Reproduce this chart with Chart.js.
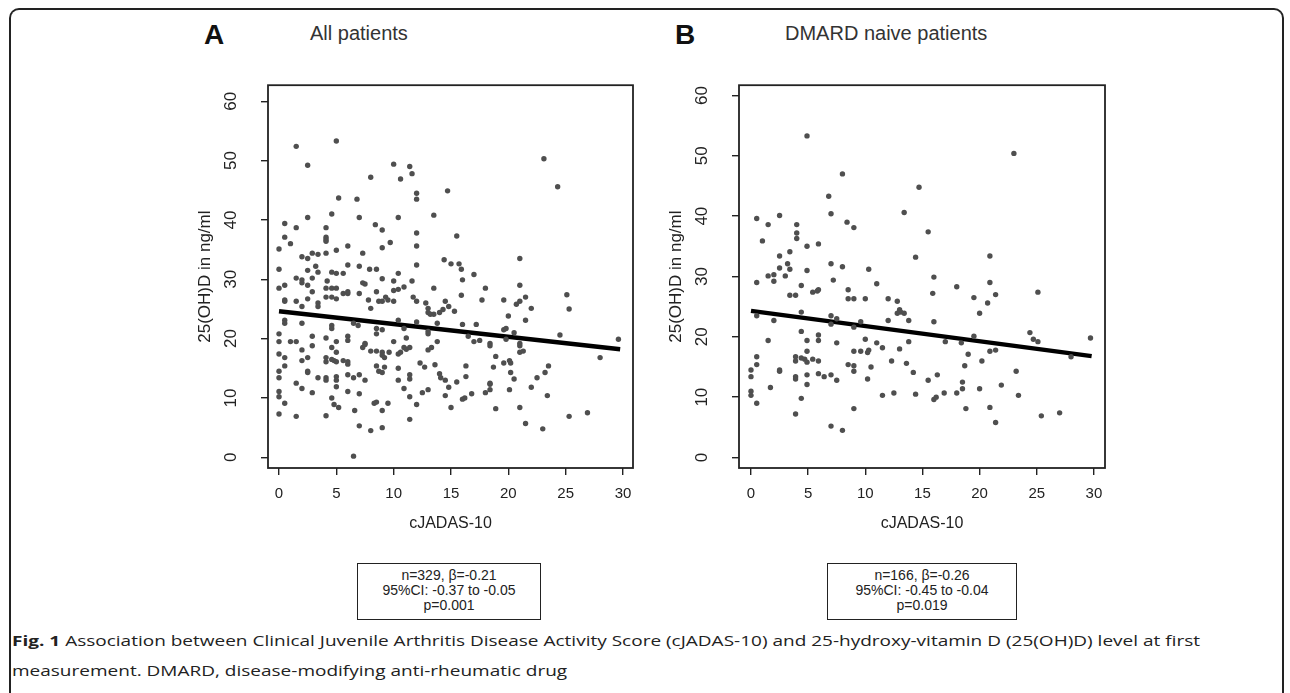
<!DOCTYPE html>
<html>
<head>
<meta charset="utf-8">
<script src="https://cdn.jsdelivr.net/npm/chart.js@4.4.0/dist/chart.umd.min.js"></script>
<style>
  html, body { margin: 0; padding: 0; background: #fff; }
  body { width: 1290px; height: 693px; position: relative; overflow: hidden;
         font-family: "Liberation Sans", Arial, sans-serif; color: #222; }
  .frame { position: absolute; left: 9px; top: 8px; width: 1275px; height: 720px;
           border: 2px solid #222; border-bottom: none; border-radius: 10px 10px 0 0; box-sizing: border-box; }
  .panel { position: absolute; top: 55px; width: 460px; height: 490px; }
  .letter { position: absolute; top: 19px; font-weight: bold; font-size: 28px; color: #111; }
  .ptitle { position: absolute; top: 22px; font-size: 20px; color: #333; }
  .stats { position: absolute; top: 563px; height: 57px; border: 1.5px solid #222; box-sizing: border-box;
           font-size: 14px; line-height: 15px; text-align: center; padding-top: 4px; color: #222; }
  .caption { position: absolute; left: 12px; font-family: "Open Sans", "Noto Sans", sans-serif;
             font-size: 15px; color: #222; white-space: nowrap; transform-origin: 0 0; }
</style>
</head>
<body>
<div class="frame"></div>

<div class="letter" style="left:204px">A</div>
<div class="ptitle" style="left:310px">All patients</div>
<div class="letter" style="left:675px">B</div>
<div class="ptitle" style="left:785px">DMARD naive patients</div>

<div class="panel" style="left:190px"><canvas id="chartA"></canvas></div>
<div class="panel" style="left:661px"><canvas id="chartB"></canvas></div>

<div class="stats" style="left:357px; width:184px">n=329, &beta;=-0.21<br>95%CI: -0.37 to -0.05<br>p=0.001</div>
<div class="stats" style="left:827px; width:190px">n=166, &beta;=-0.26<br>95%CI: -0.45 to -0.04<br>p=0.019</div>

<div class="caption" id="cap1" style="top:630px"><b>Fig. 1</b> Association between Clinical Juvenile Arthritis Disease Activity Score (cJADAS-10) and 25-hydroxy-vitamin D (25(OH)D) level at first</div>
<div class="caption" id="cap2" style="top:660px">measurement. DMARD, disease-modifying anti-rheumatic drug</div>

<script>
// axis ticks
const xTicks = [0, 5, 10, 15, 20, 25, 30];
const yTicks = [0, 10, 20, 30, 40, 50, 60];

// A: all patients (cJADAS-10, 25(OH)D)
const allX = [1.5,5.0,2.5,10.0,11.4,11.6,8.0,10.6,23.1,24.3,14.7,12.0,12.0,5.2,6.8,4.6,13.5,2.5,7.0,10.4,
  0.5,1.5,0.5,1.0,0.0,4.1,4.1,4.1,4.1,9.0,8.4,9.7,9.0,12.0,12.0,15.5,6.0,5.0,7.3,4.1,2.9,3.4,2.0,2.5,0.0,2.5,3.2,3.4,4.6,5.0,5.6,6.0,7.0,7.9,8.5,10.4,12.0,14.4,15.0,15.7,15.9,21.0,17.0,16.0,18.0,21.0,25.1,25.3,
  1.5,2.0,2.5,2.9,2.0,0.0,0.5,4.2,4.1,4.6,5.0,2.9,5.6,6.0,6.0,7.3,7.5,7.0,9.0,10.0,10.4,10.9,10.0,11.6,13.5,8.5,
  0.5,0.5,1.5,2.0,2.5,3.4,3.4,4.1,4.6,5.0,7.8,8.0,8.7,9.0,9.3,9.5,10.0,11.7,12.0,12.8,13.0,13.0,13.2,13.5,14.0,14.3,14.5,14.8,15.3,15.9,17.7,19.6,20.7,21.0,21.5,22.0,20.0,21.5,
  0.5,0.5,2.0,4.6,4.6,6.5,6.9,8.5,8.5,9.0,10.4,10.9,12.0,13.0,13.0,13.8,16.0,17.2,19.6,19.8,20.5,24.5,29.6,
  0.0,0.0,1.0,1.5,2.9,4.1,5.0,6.0,6.0,7.5,10.0,11.1,13.8,16.5,17.0,17.5,18.4,19.8,21.0,
  0.0,0.5,0.5,0.0,0.0,0.0,0.0,0.5,0.0,1.5,1.5,2.0,2.0,2.0,2.5,2.5,2.5,2.9,2.9,3.4,4.1,4.1,4.6,4.8,5.0,5.6,6.0,6.0,4.1,4.1,5.0,5.0,5.0,4.6,5.0,4.6,4.8,5.2,4.1,
  6.0,6.5,7.0,7.5,6.0,7.0,6.6,6.5,7.0,8.0,9.0,9.0,8.3,8.5,9.5,7.3,7.5,8.0,8.5,9.0,9.0,9.2,9.6,8.5,9.2,8.7,9.0,
  10.4,10.6,10.9,11.1,11.4,10.4,10.4,11.4,11.4,10.9,11.4,12.0,11.4,12.3,12.7,12.5,13.0,13.0,13.3,13.6,14.0,14.1,14.5,14.8,14.5,15.0,15.5,16.3,16.3,16.0,16.2,16.8,
  18.0,18.4,18.4,18.4,18.9,18.7,18.4,18.9,19.6,20.1,20.2,20.2,20.5,20.1,21.0,21.0,21.3,21.0,21.5,22.0,22.5,23.2,23.5,23.4,23.0,25.3,26.9,28.0];
const allY = [52.4,53.3,49.2,49.4,49.0,47.8,47.2,46.9,50.3,45.6,44.9,44.5,43.5,43.7,43.5,41.0,40.8,40.4,40.4,40.4,
  39.4,38.7,37.1,36.0,35.1,38.7,37.1,36.7,36.4,38.3,39.2,36.2,35.3,37.8,35.6,37.3,35.6,34.9,34.4,34.4,34.4,34.2,33.8,33.5,31.7,31.5,32.2,31.2,31.2,31.0,31.0,32.4,32.2,31.7,31.7,31.0,32.4,33.3,32.6,32.6,31.7,33.5,30.8,29.9,28.5,29.0,27.4,25.0,
  30.2,29.9,29.0,30.2,29.4,28.5,29.0,29.7,28.5,28.5,28.5,27.9,27.6,27.6,27.9,29.4,29.2,27.6,30.1,29.7,28.3,28.7,28.1,29.7,28.5,27.9,
  26.5,26.3,26.3,25.4,26.7,26.0,25.4,27.0,27.0,26.7,26.5,25.1,26.3,26.3,27.0,26.5,26.3,27.0,26.3,26.0,25.1,24.4,24.1,24.1,24.4,24.9,26.3,25.4,24.6,27.3,26.5,26.5,25.8,26.3,27.0,25.1,23.8,23.1,
  23.1,22.6,22.6,22.2,21.7,22.6,22.2,21.7,20.8,21.5,23.1,21.7,22.8,21.2,20.8,22.6,22.4,22.4,21.5,21.7,21.0,20.6,19.9,
  20.8,19.5,19.5,19.5,20.4,20.1,19.5,20.4,19.7,19.2,19.5,20.1,19.5,20.4,19.5,19.7,19.2,19.9,19.2,
  17.4,16.8,15.4,14.5,13.4,11.1,10.2,9.1,7.3,6.9,12.5,11.6,18.1,16.3,16.8,14.5,14.3,10.9,18.8,13.4,16.8,16.1,16.5,16.3,16.1,16.3,16.1,15.7,13.4,13.0,13.6,13.0,11.9,18.5,17.7,10.0,8.9,8.4,7.0,
  13.9,13.4,13.9,13.0,11.1,10.7,7.9,0.2,5.3,4.5,5.0,7.9,9.1,9.3,9.1,18.5,19.0,17.9,17.9,17.7,17.2,16.8,17.7,15.4,15.2,14.5,14.3,
  17.4,17.7,18.5,18.2,18.5,15.0,13.0,13.9,13.2,11.6,10.2,8.9,6.4,15.9,15.2,10.9,11.4,18.1,18.5,15.6,14.1,13.4,13.0,11.8,10.4,8.4,12.7,15.4,13.6,9.8,10.0,10.7,
  10.9,11.4,12.3,12.5,17.0,15.2,18.8,8.2,15.9,16.3,15.9,14.3,13.2,11.4,18.8,17.7,17.9,8.4,5.7,11.8,13.4,14.3,15.4,10.4,4.8,6.9,7.5,16.8];
const allLineX = [0, 29.75];
const allLineY = [24.6, 18.2];

// B: DMARD naive patients
const naiveX = [4.9,23.0,8.0,14.7,6.8,7.0,2.5,13.4,0.5,
  1.5,4.0,4.0,4.0,8.4,9.0,1.0,4.9,5.9,15.5,2.5,3.4,3.2,3.4,2.5,4.9,7.0,8.0,10.3,14.4,20.9,
  1.5,2.0,2.0,3.0,0.5,7.2,16.0,4.4,3.4,3.9,5.4,5.8,5.9,8.5,11.0,18.0,20.9,8.5,9.0,10.0,12.0,12.8,15.9,19.5,21.4,25.1,20.7,
  0.5,4.4,2.0,7.0,7.5,13.0,13.1,12.8,13.4,13.8,12.0,20.0,16.0,7.0,9.6,9.0,4.4,4.9,5.9,5.9,1.5,7.5,10.0,11.0,13.8,17.0,18.4,19.5,24.4,24.7,25.1,29.7,
  0.5,0.5,0.0,0.0,0.0,0.0,0.5,2.5,2.5,1.7,3.9,3.9,4.4,4.7,4.9,5.4,5.9,4.9,3.9,3.9,4.9,4.9,4.4,3.9,5.9,6.4,7.0,7.5,7.0,8.0,9.0,
  8.5,9.0,9.0,9.0,9.6,10.2,10.3,11.5,10.2,10.5,11.5,12.5,12.3,13.6,13.0,14.2,14.4,15.5,16.3,16.0,16.2,16.9,18.0,18.5,18.5,18.7,19.0,18.8,
  20.2,20.0,20.9,21.4,20.9,21.4,21.9,23.2,23.4,25.4,27.0,28.0];
const naiveY = [53.3,50.4,47.0,44.8,43.3,40.4,40.1,40.6,39.6,
  38.6,38.6,37.2,36.3,39.0,38.1,35.9,35.0,35.4,37.4,33.4,34.1,32.1,31.2,31.4,31.0,32.1,31.6,31.2,33.2,33.4,
  30.1,30.3,29.2,30.1,29.0,29.4,29.9,28.5,26.9,26.9,27.4,27.6,27.8,27.8,28.8,28.3,29.0,26.3,26.3,26.3,26.3,25.9,27.2,26.5,27.0,27.4,25.6,
  23.5,24.1,22.7,23.5,23.0,24.5,24.1,23.9,23.9,22.7,22.7,23.9,22.5,22.1,22.5,21.6,20.9,19.4,20.3,19.4,19.4,19.0,19.6,19.0,19.2,19.2,19.0,20.1,20.7,19.6,19.2,19.8,
  16.7,15.4,14.5,13.4,11.0,10.3,9.0,14.5,14.3,11.6,16.7,16.0,16.5,16.3,15.8,16.3,16.0,17.6,13.4,13.0,13.7,12.1,9.8,7.2,13.9,13.4,13.7,12.8,5.2,4.5,8.1,
  15.4,15.2,14.3,17.6,17.6,17.4,17.8,18.2,13.0,15.0,10.3,10.7,16.0,15.6,18.0,14.1,10.5,12.8,13.7,9.6,10.0,10.7,10.7,11.4,12.5,15.2,17.1,8.1,
  16.0,11.4,17.6,17.8,8.3,5.8,12.0,14.3,10.3,6.9,7.4,16.7];
const naiveLineX = [0, 29.8];
const naiveLineY = [24.3, 16.8];

const pts = (xs, ys) => xs.map((x, i) => ({ x: x, y: ys[i] }));

// draws the closed plot frame like R's box()
const boxPlugin = {
  id: 'box',
  afterDatasetsDraw(chart) {
    const { ctx, chartArea: a } = chart;
    ctx.save();
    ctx.strokeStyle = '#222';
    ctx.lineWidth = 1.8;
    ctx.strokeRect(a.left, a.top, a.right - a.left, a.bottom - a.top);
    ctx.restore();
  }
};

function makePanel(id, xs, ys, lx, ly, xr, yr, padRight) {
  const tickColor = '#222';
  new Chart(document.getElementById(id), {
    type: 'scatter',
    data: {
      datasets: [
        {
          data: pts(xs, ys),
          backgroundColor: '#4f4f4f',
          borderWidth: 0,
          pointRadius: 2.7,
          pointHoverRadius: 2.7
        },
        {
          data: pts(lx, ly),
          showLine: true,
          borderColor: '#000',
          borderWidth: 4.5,
          pointRadius: 0
        }
      ]
    },
    options: {
      responsive: true,
      maintainAspectRatio: false,
      animation: false,
      events: [],
      layout: { padding: { top: 12, right: padRight, bottom: 2, left: 0 } },
      plugins: { legend: { display: false }, tooltip: { enabled: false } },
      scales: {
        x: {
          type: 'linear',
          min: xr[0], max: xr[1],
          afterBuildTicks: s => { s.ticks = xTicks.map(v => ({ value: v })); },
          afterFit: s => { s.height = 75; },
          border: { display: false },
          grid: { drawOnChartArea: false, drawTicks: true, tickLength: 7, color: tickColor, lineWidth: 1.4 },
          ticks: { color: '#222', font: { family: 'Liberation Sans', size: 15 }, padding: 10, maxRotation: 0 },
          title: { display: true, text: 'cJADAS-10', color: '#222',
                   font: { family: 'Liberation Sans', size: 16 }, padding: { top: 0, bottom: 10 } }
        },
        y: {
          type: 'linear',
          min: yr[0], max: yr[1],
          afterBuildTicks: s => { s.ticks = yTicks.map(v => ({ value: v })); },
          afterFit: s => { s.width = 78; },
          border: { display: false },
          grid: { drawOnChartArea: false, drawTicks: true, tickLength: 7, color: tickColor, lineWidth: 1.4 },
          ticks: { color: '#222', font: { family: 'Liberation Sans', size: 17 }, padding: 20,
                   minRotation: 90, maxRotation: 90, crossAlign: 'center' },
          title: { display: true, text: '25(OH)D in ng/ml', color: '#222',
                   font: { family: 'Liberation Sans', size: 17 }, padding: { top: 5, bottom: 0 } }
        }
      }
    },
    plugins: [boxPlugin]
  });
}

makePanel('chartA', allX, allY, allLineX, allLineY, [-0.96, 30.87], [-1.8, 62.7], 17);
makePanel('chartB', naiveX, naiveY, naiveLineX, naiveLineY, [-1.05, 30.97], [-1.74, 61.7], 16);

// squeeze the caption lines to the reference width
const c1 = document.getElementById('cap1');
const c2 = document.getElementById('cap2');
const k = 1188 / c1.getBoundingClientRect().width;
c1.style.transform = 'scaleX(' + k + ')';
c2.style.transform = 'scaleX(' + k + ')';
</script>
</body>
</html>
